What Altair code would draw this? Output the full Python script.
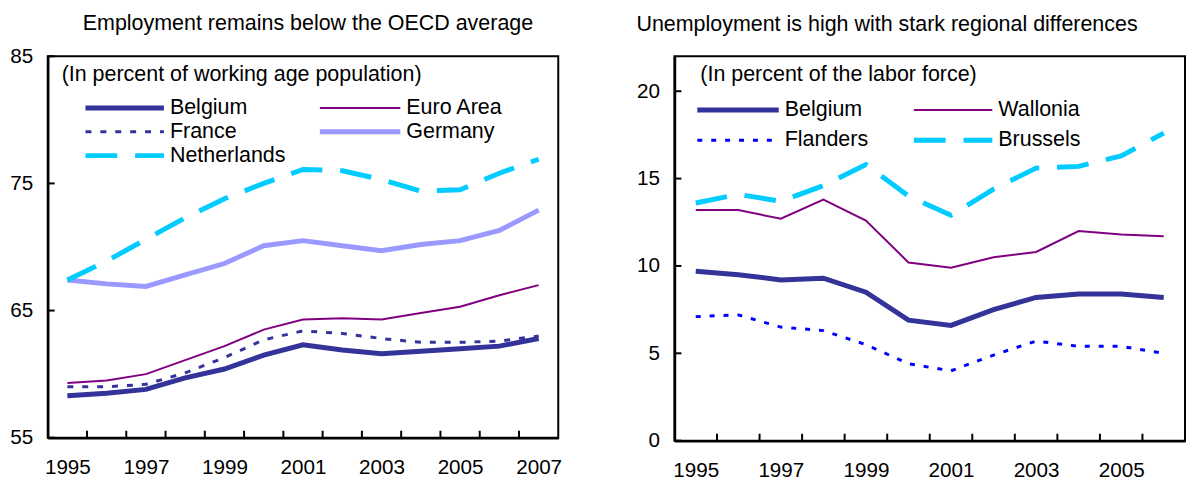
import altair as alt
import pandas as pd

# ---------------- data ----------------
years_emp = [1995, 1996, 1997, 1998, 1999, 2000, 2001, 2002, 2003, 2004, 2005, 2006, 2007]
belgium_emp = [58.3, 58.5, 58.8, 59.7, 60.4, 61.5, 62.3, 61.9, 61.6, 61.8, 62.0, 62.2, 62.8]
euro_emp = [59.3, 59.5, 60.0, 61.1, 62.2, 63.5, 64.3, 64.4, 64.3, 64.8, 65.3, 66.2, 67.0]
france_emp = [59.0, 59.0, 59.2, 60.1, 61.3, 62.7, 63.4, 63.2, 62.8, 62.5, 62.5, 62.6, 63.0]
germany_emp = [67.4, 67.1, 66.9, 67.8, 68.7, 70.1, 70.5, 70.1, 69.7, 70.2, 70.5, 71.3, 72.9]
netherlands_emp = [67.4, 68.9, 70.6, 72.3, 73.8, 75.0, 76.1, 76.0, 75.3, 74.4, 74.5, 75.8, 76.9]

years_unemp = [1995, 1996, 1997, 1998, 1999, 2000, 2001, 2002, 2003, 2004, 2005, 2006]
belgium_unemp = [9.7, 9.5, 9.2, 9.3, 8.5, 6.9, 6.6, 7.5, 8.2, 8.4, 8.4, 8.2]
wallonia_unemp = [13.2, 13.2, 12.7, 13.8, 12.6, 10.2, 9.9, 10.5, 10.8, 12.0, 11.8, 11.7]
flanders_unemp = [7.1, 7.2, 6.5, 6.3, 5.5, 4.4, 4.0, 4.9, 5.7, 5.4, 5.4, 5.0]
brussels_unemp = [13.6, 14.1, 13.7, 14.6, 15.8, 14.0, 12.9, 14.4, 15.6, 15.7, 16.3, 17.6]

emp_names = ["Belgium", "Euro Area", "France", "Germany", "Netherlands"]
unemp_names = ["Belgium", "Wallonia", "Flanders", "Brussels"]

emp_ticks = [55, 65, 75, 85]
unemp_ticks = [0, 5, 10, 15, 20]
emp_labels = [1995, 1997, 1999, 2001, 2003, 2005, 2007]
unemp_labels = [1995, 1997, 1999, 2001, 2003, 2005]

title_left = "Employment remains below the OECD average"
title_right = "Unemployment is high with stark regional differences"
sub_left = "(In percent of working age population)"
sub_right = "(In percent of the labor force)"

# ---------------- styles ----------------
FONT = "Liberation Sans"
TEXT_SIZE = 21.6
LABEL_SIZE = 20.8
NAVY = "#333399"
PURPLE = "#800080"
LAVENDER = "#9999FF"
CYAN = "#00CCFF"
BLUE = "#0000FF"
LONG_DASH = [32, 18]

emp_styles = {
    "Belgium": dict(color=NAVY, strokeWidth=5),
    "Euro Area": dict(color=PURPLE, strokeWidth=2),
    "France": dict(color=NAVY, strokeWidth=3, strokeDash=[6, 9]),
    "Germany": dict(color=LAVENDER, strokeWidth=5),
    "Netherlands": dict(color=CYAN, strokeWidth=5, strokeDash=LONG_DASH),
}
unemp_styles = {
    "Belgium": dict(color=NAVY, strokeWidth=5),
    "Wallonia": dict(color=PURPLE, strokeWidth=2),
    "Flanders": dict(color=BLUE, strokeWidth=3, strokeDash=[5, 9]),
    "Brussels": dict(color=CYAN, strokeWidth=5, strokeDash=LONG_DASH),
}

W = 514
H_LEFT = 384
H_RIGHT = 387


def long_df(years, names, series):
    rows = []
    for name, vals in zip(names, series):
        for yr, v in zip(years, vals):
            rows.append({"year": yr, "series": name, "value": v})
    return pd.DataFrame(rows)


def panel(df, years, names, styles, y_domain, y_ticks, x_labels, height,
          title, title_dx, title_offset, subtitle, sub_xy, legend_layout):
    x_enc = alt.X(
        "year:Q",
        scale=alt.Scale(domain=[years[0] - 0.5, years[-1] + 0.5], nice=False, zero=False),
        axis=alt.Axis(values=x_labels, format="d", labelPadding=20, ticks=False,
                      tickSize=0, grid=False, title=None, labelFlush=False,
                      labelOverlap=False, labelBound=False),
    )
    y_enc = alt.Y(
        "value:Q",
        scale=alt.Scale(domain=y_domain, nice=False, zero=False),
        axis=alt.Axis(values=y_ticks, labelPadding=15, ticks=False, tickSize=0,
                      grid=False, title=None, labelOverlap=False),
    )
    layers = []
    for name in names:
        layers.append(
            alt.Chart(df)
            .transform_filter(alt.datum.series == name)
            .mark_line(**styles[name])
            .encode(x=x_enc, y=y_enc)
        )
    # inward tick marks between years
    bounds = pd.DataFrame({"year": [y + 0.5 for y in years[:-1]]})
    layers.append(
        alt.Chart(bounds).mark_rule(color="black", strokeWidth=2)
        .encode(x=x_enc, y=alt.value(height), y2=alt.value(height - 7))
    )
    yt = pd.DataFrame({"value": y_ticks})
    layers.append(
        alt.Chart(yt).mark_rule(color="black", strokeWidth=2)
        .encode(y=y_enc, x=alt.value(0), x2=alt.value(7))
    )
    one = pd.DataFrame({"k": [0]})
    layers.append(
        alt.Chart(one).mark_text(text=subtitle, align="left", baseline="middle",
                                 font=FONT, fontSize=TEXT_SIZE, color="black")
        .encode(x=alt.value(sub_xy[0]), y=alt.value(sub_xy[1]))
    )
    for name, (x1, x2, xt, yy) in legend_layout.items():
        layers.append(
            alt.Chart(one).mark_rule(**styles[name])
            .encode(x=alt.value(x1), x2=alt.value(x2), y=alt.value(yy))
        )
        layers.append(
            alt.Chart(one).mark_text(text=name, align="left", baseline="middle",
                                     font=FONT, fontSize=TEXT_SIZE, color="black")
            .encode(x=alt.value(xt), y=alt.value(yy))
        )
    return alt.layer(*layers).properties(
        width=W, height=height,
        title=alt.TitleParams(title, font=FONT, fontSize=TEXT_SIZE, fontWeight="normal",
                              color="black", anchor="middle", frame="group",
                              dx=title_dx, offset=title_offset),
    )


emp_df = long_df(years_emp, emp_names,
                 [belgium_emp, euro_emp, france_emp, germany_emp, netherlands_emp])
unemp_df = long_df(years_unemp, unemp_names,
                   [belgium_unemp, wallonia_unemp, flanders_unemp, brussels_unemp])

left_legend = {
    "Belgium": (38, 117, 123, 52),
    "Euro Area": (274, 355, 361, 52),
    "France": (38, 117, 123, 76),
    "Germany": (274, 355, 361, 76),
    "Netherlands": (38, 117, 123, 100),
}
right_legend = {
    "Belgium": (23, 105, 111, 54),
    "Wallonia": (241, 320, 326, 54),
    "Flanders": (23, 105, 111, 84.5),
    "Brussels": (241, 320, 326, 84.5),
}

left = panel(emp_df, years_emp, emp_names, emp_styles, [55, 85], emp_ticks, emp_labels,
             H_LEFT, title_left, 5, 11, sub_left, (14, 18.5), left_legend)
right = panel(unemp_df, years_unemp, unemp_names, unemp_styles, [0, 22], unemp_ticks,
              unemp_labels, H_RIGHT, title_right, -43, 21, sub_right, (26, 18.5), right_legend)

chart = (
    alt.hconcat(left, right, spacing=72)
    .properties(padding={"left": 0, "top": 2, "right": 0, "bottom": 0})
    .configure_view(stroke="black", strokeWidth=2)
    .configure_axis(domainColor="black", domainWidth=2.5, labelFont=FONT,
                    labelFontSize=LABEL_SIZE, labelColor="black")
)

chart.save("out.html", embed_options={"renderer": "svg", "actions": False})
